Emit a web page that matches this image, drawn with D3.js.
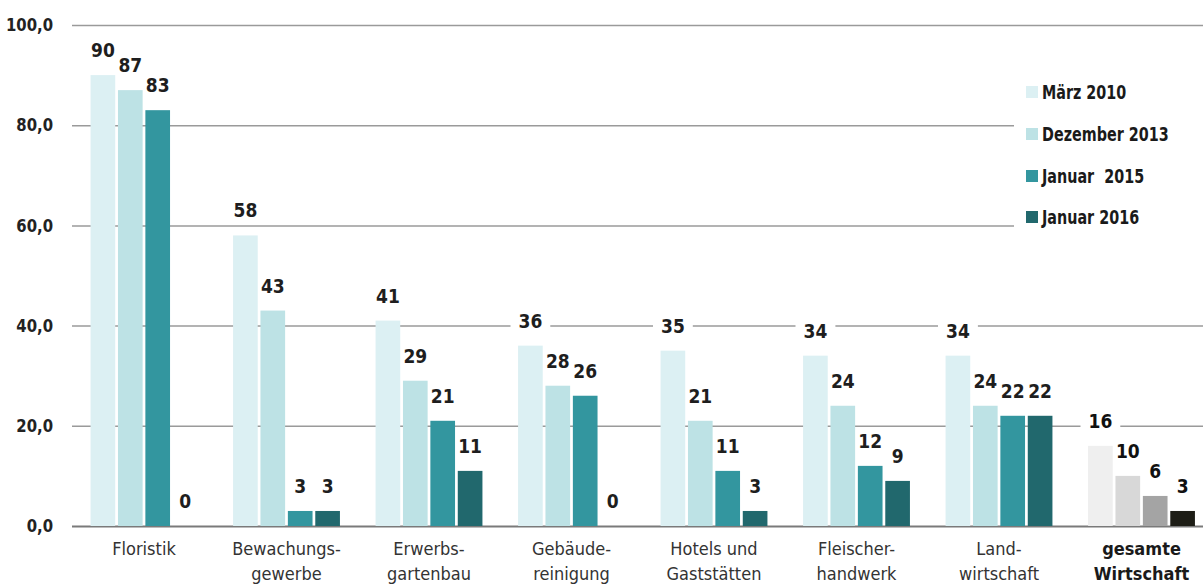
<!DOCTYPE html>
<html>
<head>
<meta charset="utf-8">
<script src="https://cdn.jsdelivr.net/npm/d3@7"></script>
<style>
  html, body { margin: 0; padding: 0; background: #fff; }
  svg { display: block; }
  text { font-family: "Liberation Sans Narrow", "DejaVu Sans Condensed", "Arial Narrow", sans-serif; }
</style>
</head>
<body>
<svg id="chart" width="1203" height="585"></svg>
<script>
// Categories (line breaks mark the two-line axis labels)
const categories = [
  "Floristik",
  "Bewachungs-\ngewerbe",
  "Erwerbs-\ngartenbau",
  "Gebäude-\nreinigung",
  "Hotels und\nGaststätten",
  "Fleischer-\nhandwerk",
  "Land-\nwirtschaft",
  "gesamte\nWirtschaft"
];

// Series names and values, in category order
const seriesNames = ["März 2010", "Dezember 2013", "Januar  2015", "Januar 2016"];
const maerz2010   = [90, 58, 41, 36, 35, 34, 34, 16];
const dezember2013 = [87, 43, 29, 28, 21, 24, 24, 10];
const januar2015  = [83, 3, 21, 26, 11, 12, 22, 6];
const januar2016  = [0, 3, 11, 0, 3, 9, 22, 3];
const seriesValues = [maerz2010, dezember2013, januar2015, januar2016];

// Y axis ticks
const yTicks = [0, 20, 40, 60, 80, 100];

// Colours: teal shades for the sectors, greys for the economy as a whole
const tealColors = ["#dcf0f3", "#bde2e5", "#33969f", "#21686d"];
const greyColors = ["#efefef", "#d8d8d8", "#a4a4a4", "#1d1d16"];
const totalCategory = "gesamte\nWirtschaft";

const svg = d3.select("#chart");
const W = 1203;

const x0 = d3.scaleBand()
  .domain(categories)
  .range([72.75, 72.75 + 8 * 142.5])
  .paddingInner(0.25)
  .paddingOuter(0.125);

const x1 = d3.scaleBand()
  .domain(d3.range(seriesNames.length))
  .range([0, x0.bandwidth()])
  .paddingInner(0.1);

const y = d3.scaleLinear().domain([0, 100]).range([526, 25]);

// Grid lines and tick labels
const gridLeft = 72;
const tickSquash = 0.92;
const yAxis = d3.axisLeft(y)
  .tickValues(yTicks)
  .tickFormat(d => d.toFixed(1).replace(".", ","))
  .tickSize(-(W - gridLeft))
  .tickPadding(19);

const gAxis = svg.append("g")
  .attr("transform", `translate(${gridLeft},0)`)
  .call(yAxis);
gAxis.select(".domain").remove();
gAxis.selectAll(".tick line")
  .attr("stroke", d => d === 0 ? "#7a7a7a" : "#9a9a9a")
  .attr("stroke-width", d => d === 0 ? 2 : 1.5);
gAxis.selectAll(".tick text")
  .attr("x", -19 / tickSquash)
  .attr("transform", `scale(${tickSquash},1)`)
  .attr("fill", "#222")
  .style("font-size", "18px")
  .style("font-weight", "bold")
  .style("font-family", "'Liberation Sans Narrow', 'DejaVu Sans Condensed', sans-serif");

// Flattened bar records
const bars = [];
categories.forEach((c, ci) => {
  seriesValues.forEach((vals, si) => {
    bars.push({ cat: c, s: si, v: vals[ci] });
  });
});
const barColor = d => (d.cat === totalCategory ? greyColors : tealColors)[d.s];
const cx = d => x0(d.cat) + x1(d.s) + x1.bandwidth() / 2;
const labelY = d => y(d.v) - 18;

// Value labels sit on white plates that interrupt the grid lines
const labelG = svg.append("g");
const labels = labelG.selectAll("text")
  .data(bars)
  .join("text")
  .attr("x", cx)
  .attr("y", labelY)
  .attr("text-anchor", "middle")
  .attr("fill", d => d.cat === totalCategory ? "#111" : "#1e1e1e")
  .style("font-size", "19px")
  .style("font-weight", "bold")
  .text(d => d.v);

const plateG = svg.insert("g", () => labelG.node());
labels.each(function (d) {
  const b = this.getBBox();
  plateG.append("rect")
    .attr("x", b.x - 8)
    .attr("y", b.y + 3)
    .attr("width", b.width + 16)
    .attr("height", b.height - 5)
    .attr("fill", "#fff");
});

// Bars
svg.insert("g", () => labelG.node())
  .selectAll("rect")
  .data(bars)
  .join("rect")
  .attr("x", d => x0(d.cat) + x1(d.s))
  .attr("y", d => y(d.v))
  .attr("width", x1.bandwidth())
  .attr("height", d => y(0) - y(d.v))
  .attr("fill", barColor);

// Category labels
const catG = svg.append("g");
categories.forEach(c => {
  const lines = c.split("\n");
  const t = catG.append("text")
    .attr("x", x0(c) + x0.bandwidth() / 2)
    .attr("y", 555)
    .attr("text-anchor", "middle")
    .attr("fill", c === totalCategory ? "#1a1a1a" : "#333")
    .style("font-size", "18px")
    .style("font-weight", c === totalCategory ? "bold" : "normal");
  lines.forEach((ln, i) => {
    t.append("tspan")
      .attr("x", x0(c) + x0.bandwidth() / 2)
      .attr("dy", i === 0 ? 0 : 25)
      .text(ln);
  });
});

// Legend on a white panel over the grid
const legend = svg.append("g");
legend.append("rect")
  .attr("x", 1014).attr("y", 70)
  .attr("width", W - 1014).attr("height", 170)
  .attr("fill", "#fff");
const legendRowY = [92, 134, 176, 217];
seriesNames.forEach((name, i) => {
  legend.append("rect")
    .attr("x", 1026).attr("y", legendRowY[i] - 6)
    .attr("width", 12).attr("height", 12)
    .attr("fill", tealColors[i]);
  legend.append("text")
    .attr("x", 0).attr("y", 0)
    .attr("transform", `translate(1042,${legendRowY[i] + 7}) scale(0.84,1)`)
    .attr("fill", "#1a1a1a")
    .style("font-size", "19px")
    .style("font-weight", "bold")
    .style("white-space", "pre")
    .text(name);
});
</script>
</body>
</html>
